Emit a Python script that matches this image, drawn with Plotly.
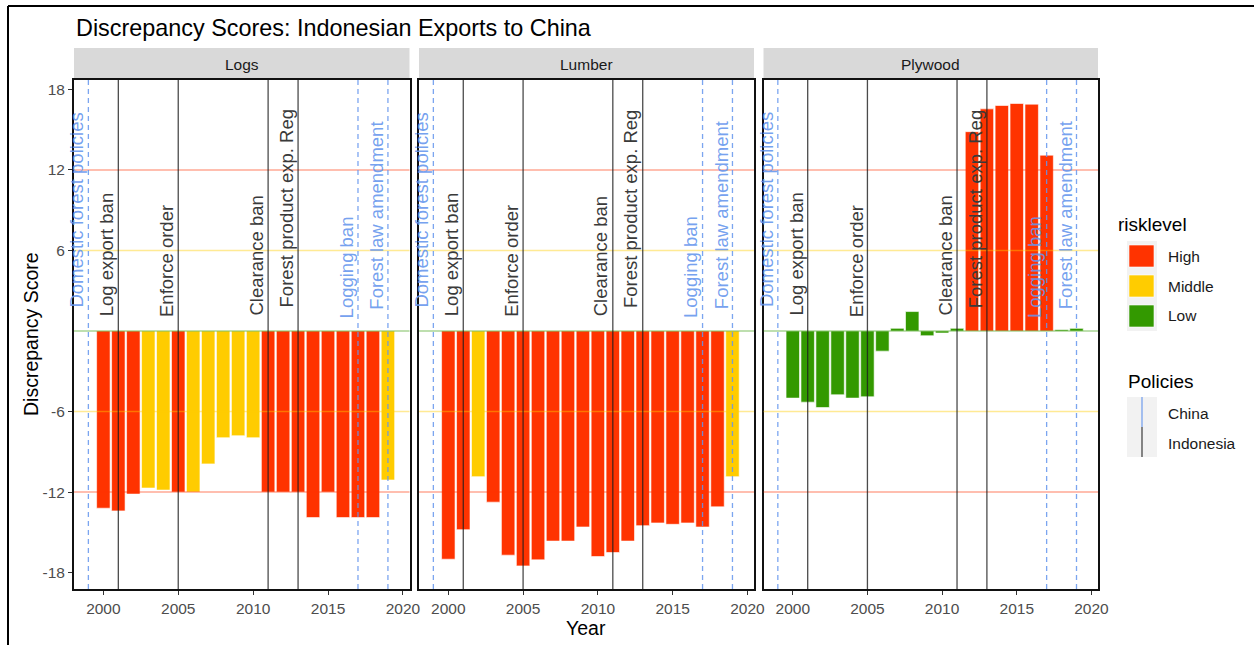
import plotly.graph_objects as go

# ---- data -------------------------------------------------------------
years = list(range(2000, 2020))

logs = [-13.2, -13.4, -12.15, -11.7, -11.85, -12.0, -12.0, -9.9, -7.95, -7.8,
        -7.95, -12.0, -12.0, -12.0, -13.9, -12.0, -13.9, -13.9, -13.9, -11.1]
logs_risk = ["High", "High", "High", "Middle", "Middle", "High", "Middle", "Middle",
             "Middle", "Middle", "Middle", "High", "High", "High", "High", "High",
             "High", "High", "High", "Middle"]

lumber = [-17.0, -14.8, -10.85, -12.75, -16.7, -17.5, -17.05, -15.65, -15.65, -14.6,
          -16.8, -16.5, -15.65, -14.5, -14.3, -14.4, -14.3, -14.6, -13.1, -10.85]
lumber_risk = ["High", "High", "Middle", "High", "High", "High", "High", "High",
               "High", "High", "High", "High", "High", "High", "High", "High",
               "High", "High", "High", "Middle"]

plywood = [-5.0, -5.3, -5.7, -4.75, -5.0, -4.9, -1.5, 0.2, 1.45, -0.35,
           -0.15, 0.2, 14.85, 16.55, 16.8, 16.95, 16.9, 13.1, 0.1, 0.2]
plywood_risk = ["Low", "Low", "Low", "Low", "Low", "Low", "Low", "Low", "Low", "Low",
                "Low", "Low", "High", "High", "High", "High", "High", "High",
                "Low", "Low"]

products = ["Logs", "Lumber", "Plywood"]

policy_names = ["Domestic forest policies", "Log export ban", "Enforce order",
                "Clearance ban", "Forest product exp. Reg", "Logging ban",
                "Forest law amendment"]
policy_years = [1999, 2001, 2005, 2011, 2013, 2017, 2019]
policy_country = ["China", "Indonesia", "Indonesia", "Indonesia", "Indonesia",
                  "China", "China"]

risk_levels = ["High", "Middle", "Low"]
threshold_levels = [12, 6, 0]
y_ticks = [-18, -12, -6, 6, 12, 18]
y_tick_labels = ["-18", "-12", "-6", "6", "12", "18"]
x_ticks = [2000, 2005, 2010, 2015, 2020]

# ---- styling -----------------------------------------------------------
W, H = 1254, 645
FONT = "Liberation Sans, Arial, sans-serif"
risk_colors = {"High": "#FF3300", "Middle": "#FFCC00", "Low": "#339900"}
threshold_colors = {12: "rgba(255,51,0,0.42)", 6: "rgba(255,204,0,0.42)",
                    0: "rgba(51,153,0,0.42)"}
policy_colors = {"China": "rgba(100,149,237,0.85)", "Indonesia": "rgba(30,30,30,0.8)"}
policy_text_colors = {"China": "rgba(100,149,237,0.9)", "Indonesia": "#3A3A3A"}
policy_dash = {"China": "5px,4px", "Indonesia": "solid"}
# vertical start of each rotated policy label (data units)
label_y = [1.7, 1.05, 0.95, 1.05, 1.65, 0.9, 1.55]


def px(x):
    return x / W


def py(y):
    return 1 - y / H


panel_x = [(74, 409.5), (419, 754), (763.5, 1098)]
panel_top, panel_bottom = 80, 589
strip_top = 48
x_range = [1998.04, 2020.44]
y_range = [-19.22, 18.7]

fig = go.Figure()

values = [logs, lumber, plywood]
risks = [logs_risk, lumber_risk, plywood_risk]

for i, prod in enumerate(products):
    xa = "x" if i == 0 else f"x{i + 1}"
    ya = "y" if i == 0 else f"y{i + 1}"
    fig.add_trace(go.Bar(
        x=years, y=values[i], width=0.9,
        marker=dict(color=[risk_colors[r] for r in risks[i]],
                    line=dict(color="rgba(255,255,255,0.6)", width=1)),
        xaxis=xa, yaxis=ya, showlegend=False, name=prod,
    ))

layout_axes = {}
shapes = []
annotations = []

for i, prod in enumerate(products):
    xkey = "xaxis" if i == 0 else f"xaxis{i + 1}"
    ykey = "yaxis" if i == 0 else f"yaxis{i + 1}"
    xref = "x" if i == 0 else f"x{i + 1}"
    yref = "y" if i == 0 else f"y{i + 1}"
    x0, x1 = panel_x[i]
    layout_axes[xkey] = dict(
        domain=[px(x0), px(x1)], range=x_range, anchor=yref,
        tickvals=x_ticks, ticks="outside", ticklen=4, tickwidth=1, tickcolor="#333333",
        tickfont=dict(family=FONT, size=15.5, color="#4D4D4D"),
        showgrid=False, zeroline=False, showline=True, mirror=True,
        linecolor="#111111", linewidth=2, automargin=False,
    )
    ycfg = dict(
        domain=[py(panel_bottom), py(panel_top)], range=y_range, anchor=xref,
        showgrid=False, zeroline=False, showline=True, mirror=True,
        linecolor="#111111", linewidth=2, automargin=False,
    )
    if i == 0:
        ycfg.update(tickvals=y_ticks, ticktext=y_tick_labels, ticks="outside",
                    ticklen=4, tickwidth=1, tickcolor="#333333",
                    tickfont=dict(family=FONT, size=15.5, color="#4D4D4D"))
    else:
        ycfg.update(showticklabels=False, ticks="", matches="y")
    layout_axes[ykey] = ycfg

    # facet strip
    shapes.append(dict(type="rect", xref="paper", yref="paper",
                       x0=px(x0), x1=px(x1), y0=py(panel_top), y1=py(strip_top),
                       fillcolor="#D9D9D9", line=dict(width=0), layer="below"))
    annotations.append(dict(text=prod, xref="paper", yref="paper",
                            x=px((x0 + x1) / 2), y=py((strip_top + panel_top) / 2),
                            xanchor="center", yanchor="middle", showarrow=False,
                            font=dict(family=FONT, size=15.5, color="#1A1A1A")))

    # risk threshold lines
    for lvl in threshold_levels:
        for v in ([lvl, -lvl] if lvl else [0]):
            shapes.append(dict(type="line", xref=f"{xref} domain", yref=yref,
                               x0=0, x1=1, y0=v, y1=v, layer="above",
                               line=dict(color=threshold_colors[lvl], width=1.5)))

    # policy markers
    for name, yr, ctry, ly in zip(policy_names, policy_years, policy_country, label_y):
        shapes.append(dict(type="line", xref=xref, yref=f"{yref} domain",
                           x0=yr, x1=yr, y0=0, y1=1, layer="above",
                           line=dict(color=policy_colors[ctry], width=1.3,
                                     dash=policy_dash[ctry])))
        annotations.append(dict(text=name, xref=xref, yref=yref, x=yr, y=ly,
                                textangle=-90, xanchor="right", yanchor="bottom",
                                showarrow=False, borderpad=0,
                                font=dict(family=FONT, size=18.5,
                                          color=policy_text_colors[ctry])))

# title and axis titles
annotations.append(dict(text="Discrepancy Scores: Indonesian Exports to China",
                        xref="paper", yref="paper", x=px(74), y=py(28),
                        xanchor="left", yanchor="middle", showarrow=False,
                        font=dict(family=FONT, size=23.4, color="#000000")))
annotations.append(dict(text="Year", xref="paper", yref="paper",
                        x=px((74 + 1098) / 2), y=py(628), xanchor="center",
                        yanchor="middle", showarrow=False,
                        font=dict(family=FONT, size=19.5, color="#000000")))
annotations.append(dict(text="Discrepancy Score", xref="paper", yref="paper",
                        x=px(31), y=py(334), xanchor="center", yanchor="middle",
                        textangle=-90, showarrow=False,
                        font=dict(family=FONT, size=19.5, color="#000000")))

# legend: risk level
annotations.append(dict(text="risklevel", xref="paper", yref="paper",
                        x=px(1116), y=py(225), xanchor="left", yanchor="middle",
                        showarrow=False, font=dict(family=FONT, size=19, color="#000000")))
shapes.append(dict(type="rect", xref="paper", yref="paper",
                   x0=px(1127), x1=px(1157), y0=py(331), y1=py(241),
                   fillcolor="#F2F2F2", line=dict(width=0)))
for k, lvl in enumerate(risk_levels):
    top = 245 + 30 * k
    shapes.append(dict(type="rect", xref="paper", yref="paper",
                       x0=px(1129), x1=px(1154), y0=py(top + 22), y1=py(top),
                       fillcolor=risk_colors[lvl],
                       line=dict(color="rgba(255,255,255,0.6)", width=1)))
    annotations.append(dict(text=lvl, xref="paper", yref="paper",
                            x=px(1166), y=py(top + 11), xanchor="left", yanchor="middle",
                            showarrow=False,
                            font=dict(family=FONT, size=15.5, color="#1A1A1A")))

# legend: policies
annotations.append(dict(text="Policies", xref="paper", yref="paper",
                        x=px(1126), y=py(381), xanchor="left", yanchor="middle",
                        showarrow=False, font=dict(family=FONT, size=19, color="#000000")))
shapes.append(dict(type="rect", xref="paper", yref="paper",
                   x0=px(1127), x1=px(1157), y0=py(457), y1=py(397),
                   fillcolor="#F2F2F2", line=dict(width=0)))
for k, ctry in enumerate(["China", "Indonesia"]):
    top = 397 + 30 * k
    shapes.append(dict(type="line", xref="paper", yref="paper",
                       x0=px(1142), x1=px(1142), y0=py(top + 30), y1=py(top),
                       line=dict(color=policy_colors[ctry], width=1.3)))
    annotations.append(dict(text=ctry, xref="paper", yref="paper",
                            x=px(1166), y=py(top + 16), xanchor="left", yanchor="middle",
                            showarrow=False,
                            font=dict(family=FONT, size=15.5, color="#1A1A1A")))

# page frame
shapes.append(dict(type="line", xref="paper", yref="paper",
                   x0=px(8), x1=1, y0=py(6), y1=py(6),
                   line=dict(color="#000000", width=2)))
shapes.append(dict(type="line", xref="paper", yref="paper",
                   x0=px(8), x1=px(8), y0=py(6), y1=0,
                   line=dict(color="#000000", width=2)))

fig.update_layout(
    width=W, height=H, autosize=False,
    margin=dict(l=0, r=0, t=0, b=0, pad=0),
    paper_bgcolor="white", plot_bgcolor="white",
    barmode="overlay", showlegend=False,
    font=dict(family=FONT),
    shapes=shapes, annotations=annotations,
    **layout_axes,
)

fig.write_html("out.html")
